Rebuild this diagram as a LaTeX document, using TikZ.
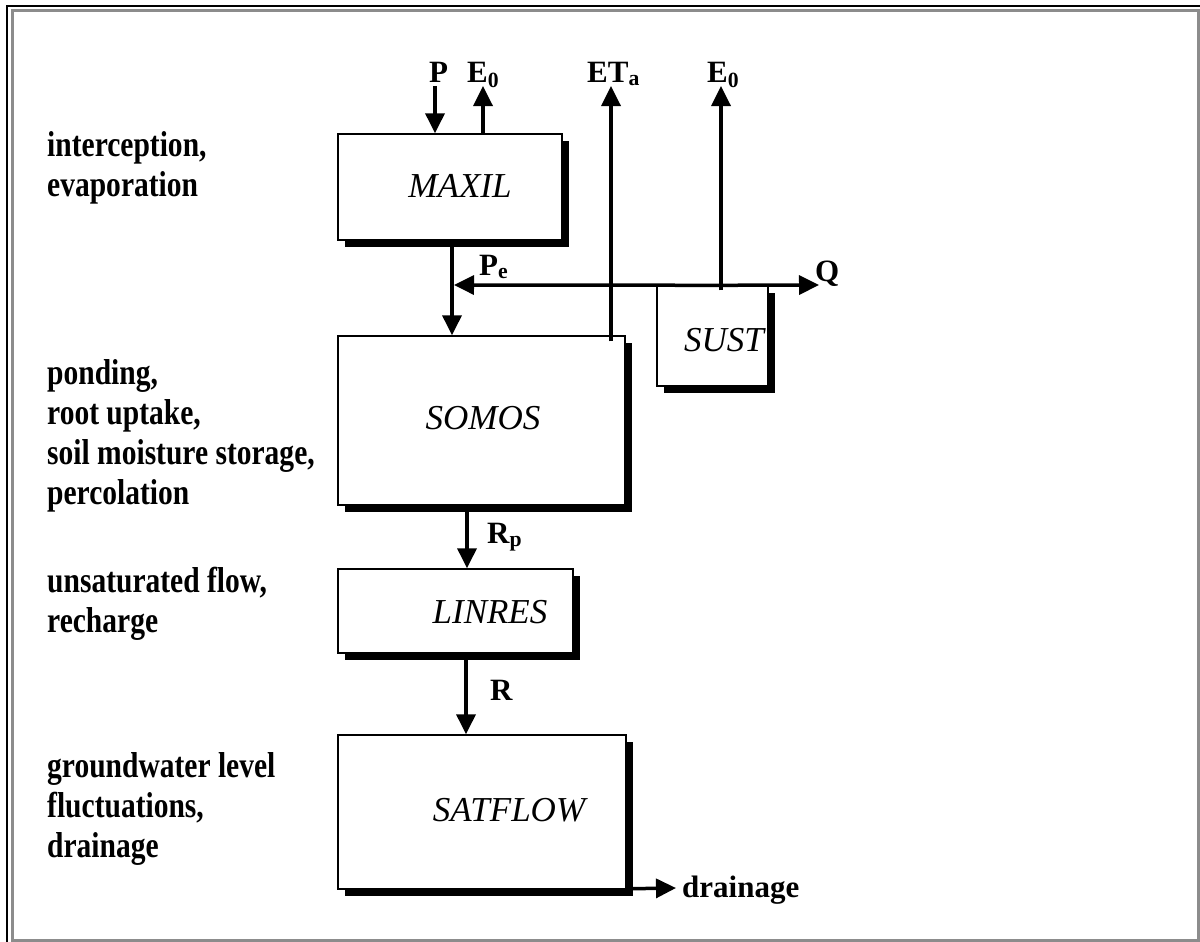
\documentclass[tikz,border=0pt]{standalone}
\usepackage{fontspec}
\setmainfont{Liberation Serif}
\newfontfamily\narrowserif[FakeStretch=0.82]{Liberation Serif}
\usetikzlibrary{arrows.meta,shadows}
\definecolor{frameGrey}{HTML}{8C8C8C}

\begin{document}
\begin{tikzpicture}[x=1pt, y=-1pt,
    module/.style={draw, line width=1.4pt, fill=white, inner sep=0pt,
        drop shadow={shadow xshift=7pt, shadow yshift=-7pt, fill=black, opacity=1}},
    modtext/.style={font=\fontsize{35}{40}\selectfont\itshape, inner sep=0pt},
    flow/.style={line width=3.5pt, -{Triangle[length=20pt,width=19pt]}},
    flux/.style={font=\fontsize{31}{36}\selectfont\bfseries, inner sep=0pt, anchor=base west},
    process/.style={font=\fontsize{36}{40}\selectfont\narrowserif\bfseries, align=left, inner sep=0pt, anchor=base west}
]
\useasboundingbox (0,0) rectangle (1200,942);
% window frame
\draw[line width=2pt] (7,942) -- (7,6) -- (1200,6);
\draw[frameGrey, line width=3pt] (12.5,942) -- (12.5,11) -- (1200,11);
\draw[frameGrey, line width=3pt] (1198,11) -- (1198,940) -- (12.5,940);

% modules
\node[module, minimum width=224, minimum height=106] (maxil) at (450,187) {};
\node[module, minimum width=287, minimum height=169] (somos) at (481.5,420.5) {};
\node[module, minimum width=111, minimum height=100] (sust) at (712.5,336) {};
\node[module, minimum width=235, minimum height=84] (linres) at (455.5,611) {};
\node[module, minimum width=288, minimum height=154] (satflow) at (482,812) {};
\node[modtext] (maxil-t) at (460,186) {MAXIL};
\node[modtext] (somos-t) at (483,418) {SOMOS};
\node[modtext, anchor=east] (sust-t) at (764,340) {SUST};
\node[modtext] (linres-t) at (490,612) {LINRES};
\node[modtext] (satflow-t) at (509,810) {SATFLOW};

% processes (base = last line)
\node[process] (proc1) at (47,196) {interception,\\evaporation};
\node[process] (proc2) at (47,504) {ponding,\\root uptake,\\soil moisture storage,\\percolation};
\node[process] (proc3) at (47,632) {unsaturated flow,\\recharge};
\node[process] (proc4) at (47,857) {groundwater level\\fluctuations,\\drainage};

% fluxes
\coordinate (pin) at (435,86);
\coordinate (e0a) at (483,86);
\coordinate (eta) at (611,86);
\coordinate (e0b) at (721,86);
\coordinate (pe) at (452,285);
\coordinate (qs) at (819,285);
\coordinate (drain) at (676,888);
\draw[flow] (pin) -- (pin |- maxil.north);
\draw[flow] (e0a |- maxil.north) -- (e0a);
\draw[flow] ([yshift=-6pt]eta |- somos.north) -- (eta);
\draw[flow] ([yshift=-5pt]e0b |- sust.north) -- (e0b);
\draw[flow] (pe |- maxil.south) -- (pe |- somos.north);
\draw[flow] (e0b |- sust.north) -- ([xshift=2pt]pe);
\draw[flow] (e0b |- sust.north) -- (qs);
\draw[flow] (467,0 |- somos.south) -- (467,0 |- linres.north);
\draw[flow] (466,0 |- linres.south) -- (466,0 |- satflow.north);
\draw[flow] ([xshift=6pt,yshift=1pt]satflow.south east) -- (drain);

\node[flux] (P) at (429,82) {P};
\node[flux] (E0a) at (467,82) {E\textsubscript{0}};
\node[flux] (ETa) at (587,82) {ET\textsubscript{a}};
\node[flux] (E0b) at (707,82) {E\textsubscript{0}};
\node[flux] (Pe) at (479,275) {P\textsubscript{e}};
\node[flux] (Q) at (815,281) {Q};
\node[flux] (Rp) at (487,543) {R\textsubscript{p}};
\node[flux] (R) at (490,700) {R};
\node[flux] (drainage) at (682,897) {drainage};
\end{tikzpicture}
\end{document}
